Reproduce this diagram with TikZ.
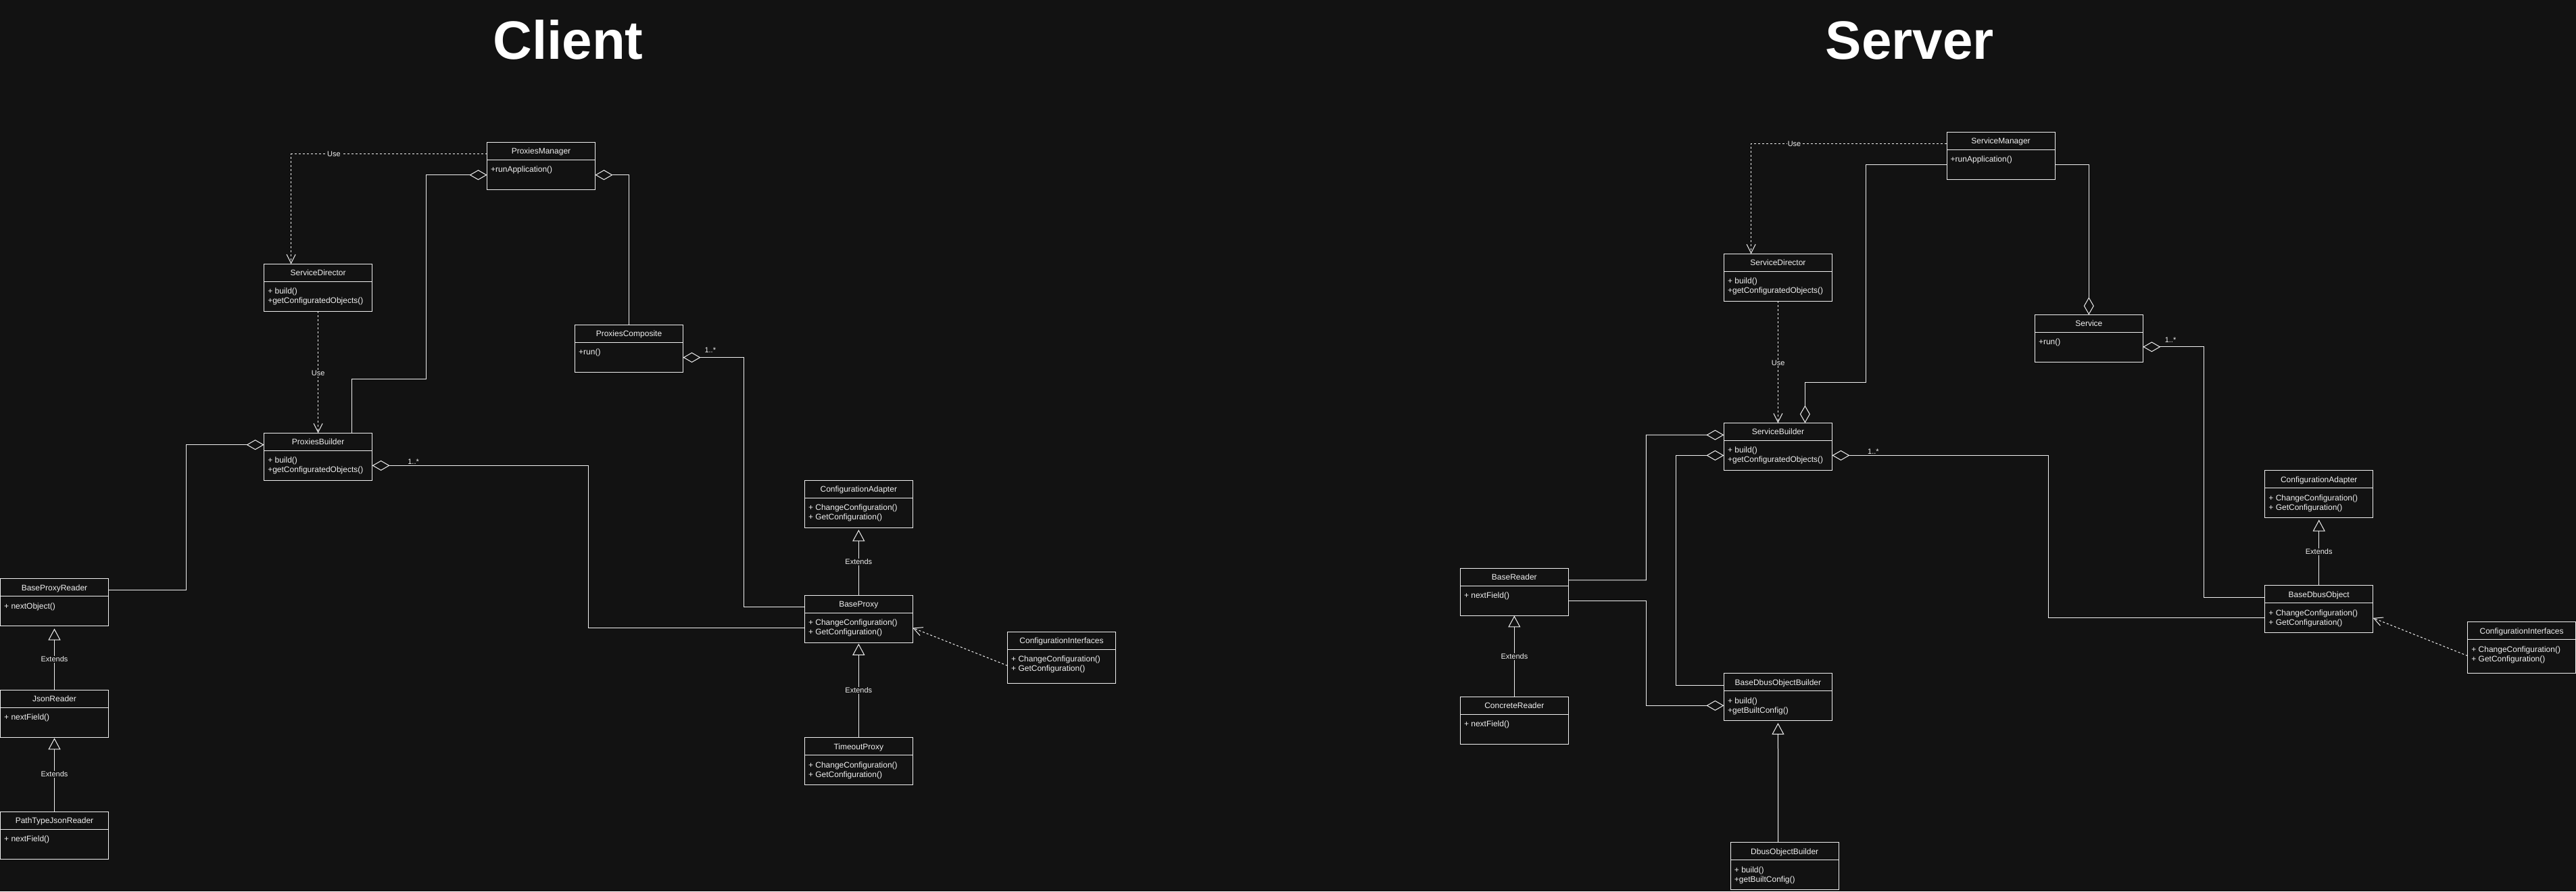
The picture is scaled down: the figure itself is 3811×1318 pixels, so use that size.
\documentclass[tikz,border=0pt]{standalone}
\usepackage{fontspec}
\setmainfont{Liberation Sans}
\usetikzlibrary{arrows.meta,calc}
\definecolor{bg}{HTML}{121212}
\definecolor{fg}{HTML}{F0F0F0}
\tikzset{
 classbox/.style={draw=fg, fill=bg, line width=1pt, inner sep=0pt, outer sep=0pt, minimum width=160pt, rectangle},
 classtitle/.style={text=fg, font=\fontsize{12}{14}\selectfont, inner sep=0pt, anchor=base},
 classbody/.style={text=fg, font=\fontsize{12}{14}\selectfont, inner sep=0pt, anchor=base west},
 conn/.style={draw=fg, line width=1pt},
 aggr/.style={conn, {Diamond[open,length=26pt,width=15pt]}-},
 aggrend/.style={conn, -{Diamond[open,length=26pt,width=15pt]}},
 dep/.style={conn, dash pattern=on 3pt off 3pt, -{Straight Barb[length=13pt,width=13pt]}},
 gen/.style={conn, -{Triangle[open,length=17pt,width=18pt]}},
 lbl/.style={text=fg, fill=bg, font=\fontsize{11}{13}\selectfont, inner sep=1pt},
 mult/.style={text=fg, fill=bg, font=\fontsize{11}{13}\selectfont, inner sep=1pt},
 heading/.style={text=white, font=\fontsize{80}{90}\selectfont\bfseries, inner sep=0pt, anchor=base},
}
\newcommand{\umlclass}[6][70]{%
  \node[classbox, minimum height=#1pt, anchor=north west] (#2) at (#3,#4) {};
  \draw[conn] ([yshift=-26pt]#2.north west) -- ([yshift=-26pt]#2.north east);
  \node[classtitle] (#2-t) at ([yshift=-17.5pt]#2.north) {#5};
  \foreach \m [count=\i] in {#6} {
    \node[classbody] (#2-m\i) at ([xshift=5.5pt,yshift={-44.5pt-(\i-1)*14pt}]#2.north west) {\m};
  }
}
\begin{document}
\begin{tikzpicture}[x=1pt,y=-1pt]
\useasboundingbox (0,0) rectangle (3811,1318);
\fill[bg] (0,0) rectangle (3811,1318);

% titles
\node[heading] (client) at (840.5,87) {Client};
\node[heading] (server) at (2825.5,87) {Server};

% ---------- Client classes ----------
\umlclass{pm}{720.5}{210.3}{ProxiesManager}{+runApplication()}
\umlclass{sd}{390.6}{390.3}{ServiceDirector}{+ build(), +getConfiguratedObjects()}
\umlclass{pc}{850.5}{480.4}{ProxiesComposite}{+run()}
\umlclass{pb}{390.6}{640.3}{ProxiesBuilder}{+ build(), +getConfiguratedObjects()}
\umlclass{bpr}{0.5}{855.5}{BaseProxyReader}{+ nextObject()}
\umlclass{jr}{0.5}{1020.3}{JsonReader}{+ nextField()}
\umlclass{ptjr}{0.5}{1200.3}{PathTypeJsonReader}{+ nextField()}
\umlclass{ca}{1190.3}{710.3}{ConfigurationAdapter}{+ ChangeConfiguration(), + GetConfiguration()}
\umlclass{bp}{1190.3}{880.3}{BaseProxy}{+ ChangeConfiguration(), + GetConfiguration()}
\umlclass{tp}{1190.3}{1090.6}{TimeoutProxy}{+ ChangeConfiguration(), + GetConfiguration()}
\umlclass[76]{ci}{1490.5}{934.3}{ConfigurationInterfaces}{+ ChangeConfiguration(), + GetConfiguration()}

% ---------- Server classes ----------
\umlclass{sm}{2880}{195.3}{ServiceManager}{+runApplication()}
\umlclass{ssd}{2550.4}{375.3}{ServiceDirector}{+ build(), +getConfiguratedObjects()}
\umlclass{sv}{3010.3}{465.4}{Service}{+run()}
\umlclass{sb}{2550.4}{625.4}{ServiceBuilder}{+ build(), +getConfiguratedObjects()}
\umlclass{br}{2160.3}{840.4}{BaseReader}{+ nextField()}
\umlclass{cr}{2160.3}{1030.4}{ConcreteReader}{+ nextField()}
\umlclass{bdob}{2550.4}{995.6}{BaseDbusObjectBuilder}{+ build(), +getBuiltConfig()}
\umlclass{dob}{2560.2}{1245.6}{DbusObjectBuilder}{+ build(), +getBuiltConfig()}
\umlclass{sca}{3350.7}{695.5}{ConfigurationAdapter}{+ ChangeConfiguration(), + GetConfiguration()}
\umlclass{bdo}{3350.7}{865.8}{BaseDbusObject}{+ ChangeConfiguration(), + GetConfiguration()}
\umlclass[76]{sci}{3650.6}{919.8}{ConfigurationInterfaces}{+ ChangeConfiguration(), + GetConfiguration()}

% ---------- Client connectors ----------
\draw[dep] ([yshift=-17.4pt]pm.north west) -| ([xshift=40pt]sd.north west);
\draw[dep] (sd.south) -- (pb.north);
\draw[aggr] ([yshift=-48.4pt]pm.north west) -| (630.3,560) -| ([xshift=130pt]pb.north west);
\draw[aggr] ([yshift=-48.4pt]pm.north east) -| (pc.north);
\draw[aggr] ([yshift=-48.2pt]pc.north east) -| (1100.2,897.7) -- ([yshift=-17.4pt]bp.north west);
\draw[aggr] ([yshift=-48.1pt]pb.north east) -| (870.6,928) -- ([yshift=-47.7pt]bp.north west);
\draw[aggr] ([yshift=-17.4pt]pb.north west) -| (275.4,872.9) -- ([yshift=-17.4pt]bpr.north east);
\draw[gen] (jr.north) -- ([yshift=-4pt]bpr.south);
\draw[gen] (ptjr.north) -- ([yshift=-1pt]jr.south);
\draw[gen] (bp.north) -- ([yshift=-3pt]ca.south);
\draw[gen] (tp.north) -- ([yshift=-1.5pt]bp.south);
\draw[dep] ([yshift=-50pt]ci.north west) -- ([yshift=-48.2pt]bp.north east);

\node[lbl] (use1) at (494,227.7) {Use};
\node[lbl] (use2) at (470.6,551.7) {Use};
\node[mult] (m1) at (1050.8,517.9) {1..*};
\node[mult] (m2) at (611.6,683) {1..*};
\node[lbl] (ext1) at (80.5,975) {Extends};
\node[lbl] (ext2) at (80.5,1145) {Extends};
\node[lbl] (ext3) at (1270.3,830.8) {Extends};
\node[lbl] (ext4) at (1270.3,1021) {Extends};

% ---------- Server connectors ----------
\draw[dep] ([yshift=-17.5pt]sm.north west) -| ([xshift=40.2pt]ssd.north west);
\draw[dep] (ssd.south) -- (sb.north);
\draw[aggrend] ([yshift=-47.9pt]sm.north west) -| (2760.3,565.2) -| ([xshift=120pt]sb.north west);
\draw[aggrend] ([yshift=-47.9pt]sm.north east) -| (sv.north);
\draw[aggr] ([yshift=-47.5pt]sv.north east) -| (3260.7,883) -- ([yshift=-17.2pt]bdo.north west);
\draw[aggr] ([yshift=-48pt]sb.north east) -| (3030.4,913.3) -- ([yshift=-47.5pt]bdo.north west);
\draw[aggr] ([yshift=-17.8pt]sb.north west) -| (2435.3,857.8) -- ([yshift=-17.4pt]br.north east);
\draw[aggr] ([yshift=-48pt]sb.north west) -| (2479.9,1013) -- ([yshift=-17.4pt]bdob.north west);
\draw[aggrend] ([yshift=-48pt]br.north east) -| (2435.3,1043.3) -- ([yshift=-47.7pt]bdob.north west);
\draw[gen] (cr.north) -- (br.south);
\draw[gen] ([xshift=70.5pt]dob.north west) -- ([yshift=-3.5pt]bdob.south);
\draw[gen] (bdo.north) -- ([yshift=-3pt]sca.south);
\draw[dep] ([yshift=-50pt]sci.north west) -- ([yshift=-48pt]bdo.north east);

\node[lbl] (use3) at (2654.5,212.8) {Use};
\node[lbl] (use4) at (2630.6,536.6) {Use};
\node[mult] (m3) at (3211,503) {1..*};
\node[mult] (m4) at (2771.4,667.7) {1..*};
\node[lbl] (ext5) at (2240.4,971) {Extends};
\node[lbl] (ext6) at (3430.7,816) {Extends};
\end{tikzpicture}
\end{document}
